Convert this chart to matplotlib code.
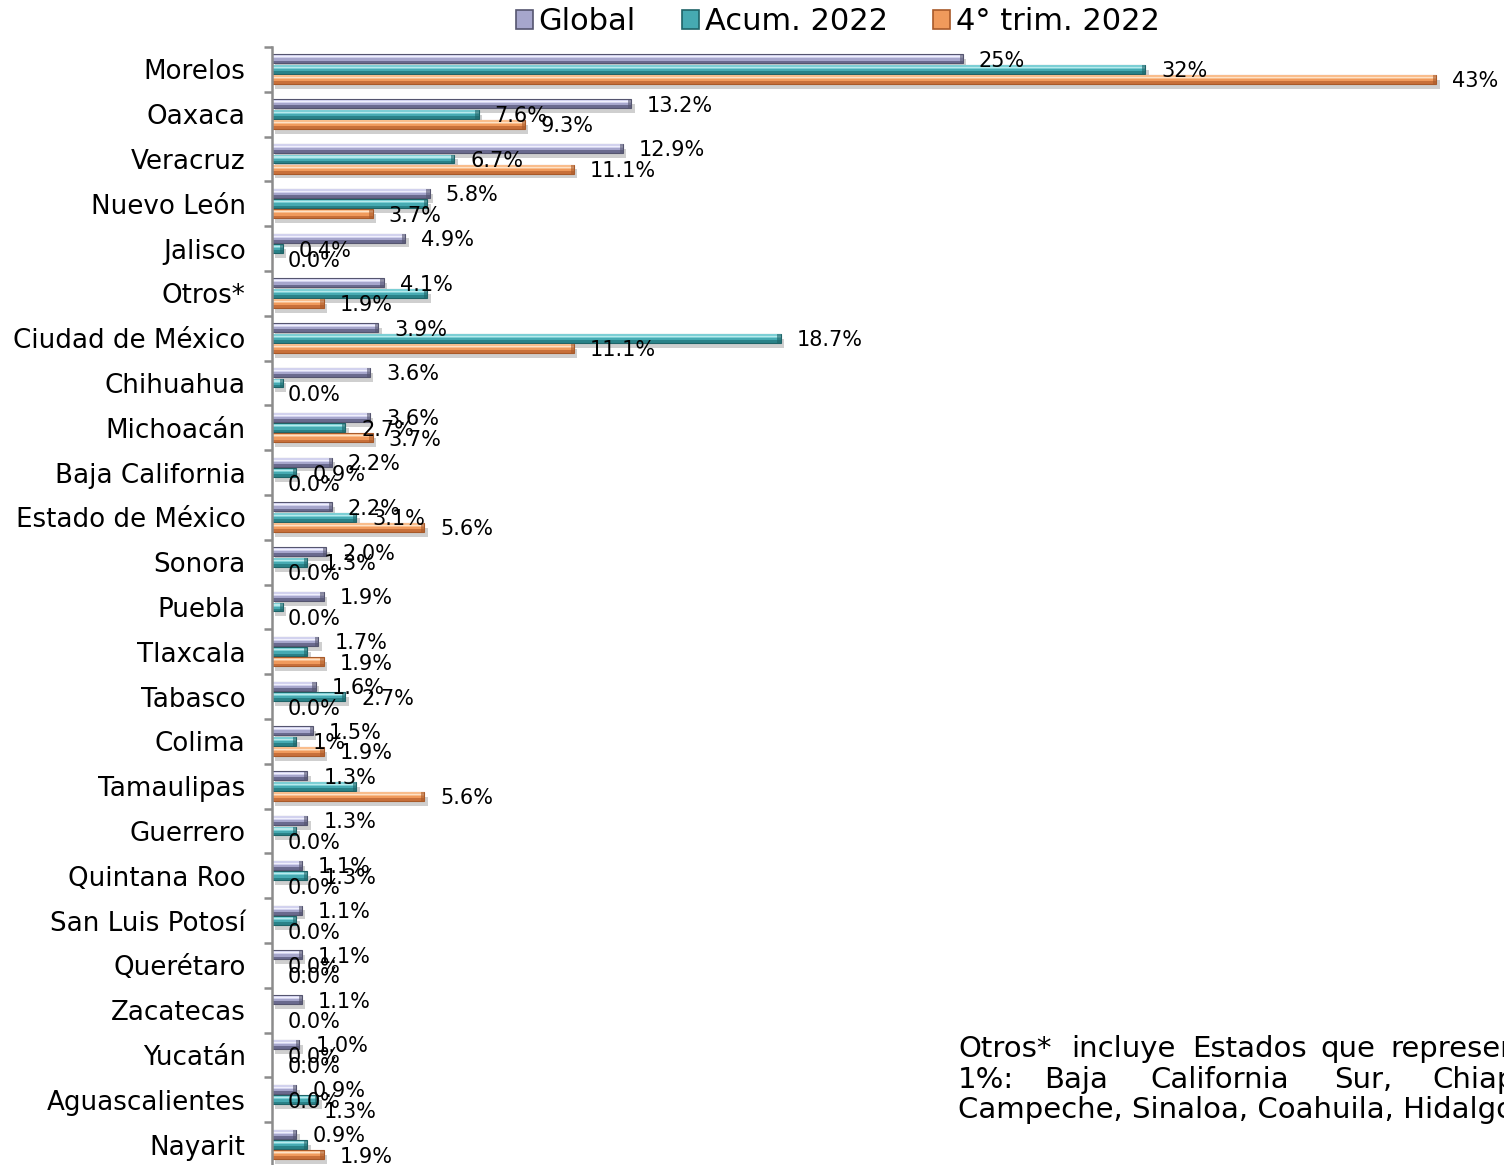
import matplotlib
matplotlib.use("Agg")
import matplotlib.pyplot as plt
import matplotlib.patheffects as pe
from matplotlib.patches import Patch
import numpy as np

plt.rcParams['font.family'] = ['DejaVu Sans']

categories = ["Morelos", "Oaxaca", "Veracruz", "Nuevo León", "Jalisco", "Otros*",
              "Ciudad de México", "Chihuahua", "Michoacán", "Baja California",
              "Estado de México", "Sonora", "Puebla", "Tlaxcala", "Tabasco", "Colima",
              "Tamaulipas", "Guerrero", "Quintana Roo", "San Luis Potosí", "Querétaro",
              "Zacatecas", "Yucatán", "Aguascalientes", "Nayarit"]

series_names = ["Global", "Acum. 2022", "4° trim. 2022"]

global_vals = [25.4, 13.2, 12.9, 5.8, 4.9, 4.1, 3.9, 3.6, 3.6, 2.2, 2.2, 2.0, 1.9,
               1.7, 1.6, 1.5, 1.3, 1.3, 1.1, 1.1, 1.1, 1.1, 1.0, 0.9, 0.9]
acum_vals = [32.1, 7.6, 6.7, 5.7, 0.4, 5.7, 18.7, 0.4, 2.7, 0.9, 3.1, 1.3, 0.4,
             1.3, 2.7, 0.9, 3.1, 0.9, 1.3, 0.9, 0.0, 0.0, 0.0, 1.7, 1.3]
trim_vals = [42.8, 9.3, 11.1, 3.7, 0.0, 1.9, 11.1, 0.0, 3.7, 0.0, 5.6, 0.0, 0.0,
             1.9, 0.0, 1.9, 5.6, 0.0, 0.0, 0.0, 0.0, 0.0, 0.0, 0.0, 1.9]

global_labels = ["25%", "13.2%", "12.9%", "5.8%", "4.9%", "4.1%", "3.9%", "3.6%", "3.6%",
                 "2.2%", "2.2%", "2.0%", "1.9%", "1.7%", "1.6%", "1.5%", "1.3%", "1.3%",
                 "1.1%", "1.1%", "1.1%", "1.1%", "1.0%", "0.9%", "0.9%"]
acum_labels = ["32%", "7.6%", "6.7%", "", "0.4%", "", "18.7%", "", "2.7%", "0.9%", "3.1%",
               "1.3%", "", "", "2.7%", "1%", "", "", "1.3%", "", "0.0%", "", "0.0%", "0.0%", ""]
trim_labels = ["43%", "9.3%", "11.1%", "3.7%", "0.0%", "1.9%", "11.1%", "0.0%", "3.7%",
               "0.0%", "5.6%", "0.0%", "0.0%", "1.9%", "0.0%", "1.9%", "5.6%", "0.0%",
               "0.0%", "0.0%", "0.0%", "0.0%", "0.0%", "1.3%", "1.9%"]

# labels whose anchor in the original differs from the bar end
label_anchor_override = {("Aguascalientes", 1): 0.0, ("Aguascalientes", 2): 1.3}

footnote_line1 = ["Otros*", "incluye", "Estados", "que", "representan", "menos", "del"]
footnote_line2 = ["1%:", "Baja", "California", "Sur,", "Chiapas,"]
footnote_line3 = "Campeche, Sinaloa, Coahuila, Hidalgo, Durango y Guanajuato."

# ---------------- styling ----------------
W, H = 1504, 1165
fig = plt.figure(figsize=(W / 100, H / 100), dpi=100)
ax_left, ax_right = 272, 1504
ax_top, ax_bot = 47, 1167
ax = fig.add_axes([ax_left / W, 1 - ax_bot / H, (ax_right - ax_left) / W, (ax_bot - ax_top) / H])

px_per_unit = 27.2
ax.set_xlim(0, (ax_right - ax_left) / px_per_unit)
n = len(categories)
ax.set_ylim(n - 0.5, -0.5)

palettes = [
    dict(dark="#6a6a8e", mid="#a6a6cc", top="#d2d2ee", hi="#f0f0fc", edge="#55556f"),
    dict(dark="#2a8288", mid="#46aab2", top="#7ccfd5", hi="#b8eaec", edge="#1f6468"),
    dict(dark="#c8703a", mid="#f09a5c", top="#f9bd8c", hi="#fde2c8", edge="#a85a2a"),
]
offsets = [-0.235, 0.0, 0.225]
bar_h = 0.2
y = np.arange(n)
all_vals = [global_vals, acum_vals, trim_vals]
all_labels = [global_labels, acum_labels, trim_labels]

shadow = [pe.SimplePatchShadow(offset=(2.5, -3.5), shadow_rgbFace="#777777", alpha=0.35), pe.Normal()]

for s, (vals, pal, off) in enumerate(zip(all_vals, palettes, offsets)):
    yc = y + off
    base = ax.barh(yc, vals, height=bar_h, color=pal["dark"], edgecolor=pal["edge"], linewidth=0.8)
    for b in base:
        b.set_path_effects(shadow)
    ax.barh(yc - bar_h * 0.12, vals, height=bar_h * 0.62, color=pal["mid"], linewidth=0)
    ax.barh(yc - bar_h * 0.25, vals, height=bar_h * 0.4, color=pal["top"], linewidth=0)
    ax.barh(yc - bar_h * 0.22, vals, height=bar_h * 0.12, color=pal["hi"], linewidth=0)
    ax.barh(yc, [min(v, 0.12) if v > 0 else 0 for v in vals], left=[max(v - 0.12, 0) for v in vals],
            height=bar_h, color=pal["edge"], alpha=0.6, linewidth=0)

# data labels
for s, (vals, labs, off) in enumerate(zip(all_vals, all_labels, offsets)):
    for i, (v, lab) in enumerate(zip(vals, labs)):
        if not lab:
            continue
        anchor = label_anchor_override.get((categories[i], s), v)
        ax.annotate(lab, xy=(anchor, i + off), xytext=(16 * 0.72, -2 * 0.72),
                    textcoords="offset points", ha="left", va="center",
                    fontsize=15, color="black", annotation_clip=False)

# axes styling
for sp in ["top", "right", "bottom"]:
    ax.spines[sp].set_visible(False)
ax.spines["left"].set_color("#8c8c8c")
ax.spines["left"].set_linewidth(1.8)
ax.set_xticks([])
ax.set_yticks(np.arange(n + 1) - 0.5)
ax.set_yticklabels([])
ax.tick_params(axis="y", which="major", length=6, width=1.8, color="#8c8c8c", direction="out")
ax.set_yticks(y, minor=True)
ax.set_yticklabels(categories, minor=True, fontsize=18.8)
ax.tick_params(axis="y", which="minor", length=0, pad=19)
ax.set_facecolor("white")

# legend
handles = [Patch(facecolor=p["mid"], edgecolor=p["edge"], linewidth=1.2) for p in palettes]
fig.legend(handles, series_names, loc="center", bbox_to_anchor=(838 / W, 1 - 22 / H),
           ncol=3, frameon=False, fontsize=22, handlelength=0.55, handleheight=0.55,
           handletextpad=0.2, columnspacing=1.5)

# footnote
fs = 21
line1_x = [958, 1071, 1192, 1320, 1390, 1600, 1700]
line2_x = [958, 1044, 1150, 1334, 1432]
for wd, xp in zip(footnote_line1, line1_x):
    fig.text(xp / W, 1 - 1049 / H, wd, fontsize=fs, ha="left", va="center")
for wd, xp in zip(footnote_line2, line2_x):
    fig.text(xp / W, 1 - 1080 / H, wd, fontsize=fs, ha="left", va="center")
fig.text(958 / W, 1 - 1110 / H, footnote_line3, fontsize=fs, ha="left", va="center")

fig.savefig("out.png", dpi=100, facecolor="white")
